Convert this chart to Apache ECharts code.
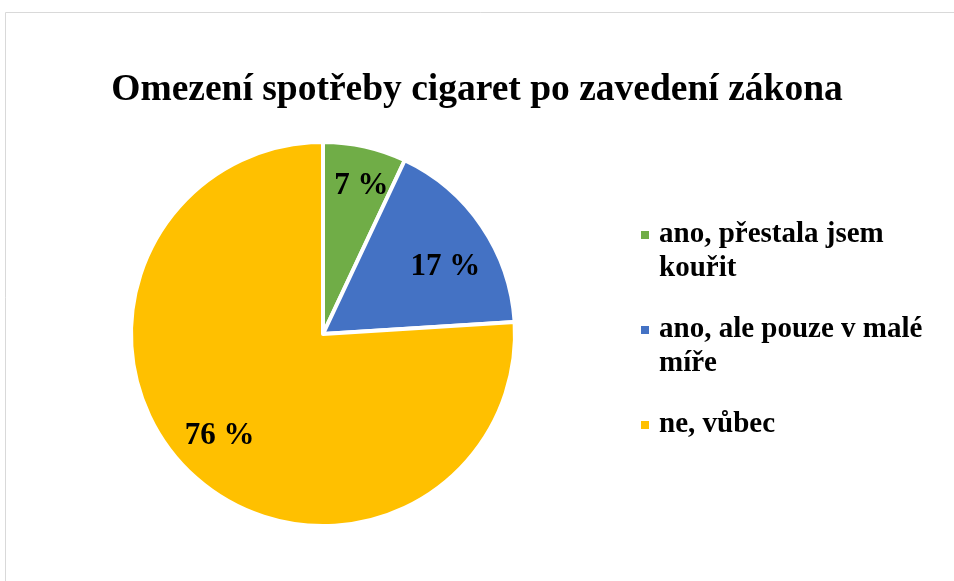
<!DOCTYPE html>
<html>
<head>
<meta charset="utf-8">
<script src="https://cdn.jsdelivr.net/npm/echarts@6/dist/echarts.min.js"></script>
<style>
  html, body { margin: 0; padding: 0; background: #fff; }
  #chart { width: 954px; height: 581px; }
</style>
</head>
<body>
<div id="chart"></div>
<script>
// data
const titleText = 'Omezení spotřeby cigaret po zavedení zákona';
const categories = ['ano, přestala jsem kouřit', 'ano, ale pouze v malé míře', 'ne, vůbec'];
// wrapped legend text; a blank line pads each so the marker sits on the first line
const legendLines = [' \nano, přestala jsem\nkouřit', ' \nano, ale pouze v malé\nmíře', ' \nne, vůbec\n '];
const shares = [7, 17, 76];
const colors = ['#70AD47', '#4472C4', '#FFC000'];

const serif = '"Liberation Serif", "Times New Roman", serif';

// small nudges so the % labels sit where Excel put them
const labelShiftX = [6, 0, -2];   // via left/right padding
const labelShiftY = [-4, 16, -6]; // via a spacer line (negative = up)

const el = document.getElementById('chart');
const inst = echarts.init(el, null, { renderer: 'canvas' });

const pieData = categories.map((name, i) => ({
  name, value: shares[i], itemStyle: { color: colors[i] }
}));

const labelData = categories.map((name, i) => {
  const dx = labelShiftX[i], dy = labelShiftY[i];
  return {
    name, value: shares[i],
    label: {
      padding: [0, dx < 0 ? -dx * 2 : 0, 0, dx > 0 ? dx * 2 : 0],
      formatter: dy > 0 ? '{s| }\n{v|{c} %}' : '{v|{c} %}\n{s| }',
      rich: {
        v: { fontFamily: serif, fontWeight: 'bold', fontSize: 31, color: '#000', lineHeight: 36 },
        s: { fontSize: 1, lineHeight: Math.abs(dy) * 2 }
      }
    }
  };
});

inst.setOption({
  animation: false,
  backgroundColor: '#fff',
  graphic: [{
    type: 'rect',
    shape: { x: 5.5, y: 12.5, width: 1000, height: 1000 },
    style: { fill: 'none', stroke: '#d9d9d9', lineWidth: 1 },
    silent: true
  }],
  title: {
    text: titleText,
    left: 'center',
    top: 69,
    padding: 0,
    textStyle: { fontFamily: serif, fontWeight: 'bold', fontSize: 37.5, color: '#000', lineHeight: 42 }
  },
  legend: {
    orient: 'vertical',
    left: 639,
    top: 184,
    padding: 0,
    itemGap: -7,
    itemWidth: 10,
    itemHeight: 10,
    icon: 'rect',
    selectedMode: false,
    data: categories.map((name, i) => ({ name, itemStyle: { color: colors[i] } })),
    formatter: name => legendLines[categories.indexOf(name)],
    textStyle: {
      fontFamily: serif, fontWeight: 'bold', fontSize: 29, color: '#000',
      lineHeight: 34, padding: [0, 0, 0, 4]
    }
  },
  series: [{
    type: 'pie',
    center: [323, 334],
    radius: 192,
    startAngle: 90,
    clockwise: true,
    silent: true,
    label: { show: false },
    labelLine: { show: false },
    itemStyle: { borderColor: '#fff', borderWidth: 4 },
    emphasis: { disabled: true },
    data: pieData
  }, {
    // invisible ring only used to place the percent labels further out
    type: 'pie',
    center: [323, 334],
    radius: [100, 190],
    startAngle: 90,
    clockwise: true,
    silent: true,
    itemStyle: { color: 'rgba(0,0,0,0)' },
    emphasis: { disabled: true },
    label: { show: true, position: 'inside' },
    labelLine: { show: false },
    data: labelData
  }]
});

window.addEventListener('resize', () => { try { inst.resize(); } catch (e) {} }, { passive: true });
</script>
</body>
</html>
